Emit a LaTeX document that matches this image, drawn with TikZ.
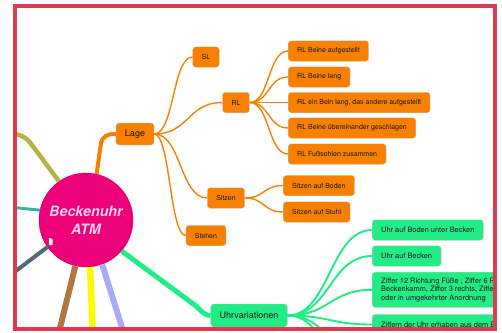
\documentclass[tikz,border=0pt]{standalone}
\usepackage{fontspec}
\setmainfont{TeX Gyre Heros}

\definecolor{mmframe}{RGB}{224,58,80}
\definecolor{mmorange}{RGB}{247,128,0}
\definecolor{mmgreen}{RGB}{34,236,134}
\definecolor{mmpink}{RGB}{236,0,122}
\definecolor{mmtext}{RGB}{250,205,228}
\definecolor{mmolive}{RGB}{181,178,74}
\definecolor{mmteal}{RGB}{58,175,170}
\definecolor{mmslate}{RGB}{80,106,115}
\definecolor{mmbrown}{RGB}{176,120,64}
\definecolor{mmyellow}{RGB}{255,250,0}
\definecolor{mmlav}{RGB}{170,170,250}

\tikzset{
	topic/.style={draw=black!20, fill=mmorange, rounded corners=3pt, inner xsep=9pt, inner ysep=0pt, minimum height=20.5pt, font=\fontsize{7}{8}\selectfont, text=black!90},
	gtopic/.style={topic, fill=mmgreen, font=\fontsize{7.4}{8.6}\selectfont},
	olink/.style={mmorange, line width=1.4pt},
	glink/.style={mmgreen, line width=1.9pt},
}

\begin{document}
\begin{tikzpicture}[x=1pt, y=-1pt]
		\useasboundingbox (0,0) rectangle (502,332);
		\begin{scope}
		\clip (15,6) rectangle (495,329);

		\node[circle, fill=mmpink, draw=mmpink!85!black, line width=0.4pt, minimum size=94pt, inner sep=0pt, align=center, text=mmtext, font=\fontsize{14.3}{18}\selectfont\bfseries\itshape] (atm) at (86,220) {Beckenuhr\\ATM};

		\coordinate (olv) at (5,133);
		\coordinate (tea) at (0,206);
		\coordinate (sla) at (0,283);
		\coordinate (bro) at (57,340);
		\coordinate (yel) at (93,340);
		\coordinate (lav) at (126,340);

		\draw[mmolive, line width=4.5pt] (atm.125) -- (32,145) .. controls (26,137) and (22,134) .. (olv);
		\draw[mmteal, line width=3pt] (atm.168) -- (tea);
		\draw[mmslate, line width=4pt] (atm.215) -- (sla);
		\draw[mmbrown, line width=6pt] (atm.257) -- (bro);
		\draw[mmyellow, line width=6.5pt] (atm.275) -- (yel);
		\draw[mmlav, line width=6pt] (atm.290) -- (lav);
		\draw[black!40, fill=white, line width=0.4pt] (49,238) -- (51,238) -- (52.5,239.5) -- (52.5,245) -- (49,245) -- cycle;

		% Lage
		\node[topic, minimum height=22pt, font=\fontsize{9}{10}\selectfont] (lage) at (135,134) {Lage};
		\node[topic] (sl) at (206,57) {SL};
		\node[topic] (rl) at (236,102.5) {RL};
		\node[topic] (sitzen) at (226,198) {Sitzen};
		\node[topic] (stehen) at (206,235.5) {Stehen};

		\node[topic, anchor=west] (rl1) at (288,51) {RL Beine aufgestellt};
		\node[topic, anchor=west] (rl2) at (288,77) {RL Beine lang};
		\node[topic, anchor=west] (rl3) at (288,102.5) {RL ein Bein lang, das andere aufgestellt};
		\node[topic, anchor=west] (rl4) at (288,128) {RL Beine übereinander geschlagen};
		\node[topic, anchor=west] (rl5) at (288,154) {RL Fußsohlen zusammen};
		\node[topic, anchor=west] (sb) at (283,185.5) {Sitzen auf Boden};
		\node[topic, anchor=west] (ss) at (283,212) {Sitzen auf Stuhl};

		\draw[mmorange, line width=4pt] (atm.77) -- (101,143) .. controls (103,136) and (107,134) .. (lage.west);
		\draw[olink] (lage.east) .. controls +(20,0) and +(-20,0) .. (sl.west);
		\draw[olink] (lage.east) .. controls +(35,0) and +(-35,0) .. (rl.west);
		\draw[olink] (lage.east) .. controls +(27,0) and +(-27,0) .. (sitzen.west);
		\draw[olink] (lage.east) .. controls +(16,0) and +(-16,0) .. (stehen.west);
		\foreach \n in {rl1,rl2,rl3,rl4,rl5}
			\draw[olink] (rl.east) .. controls +(20,0) and +(-20,0) .. (\n.west);
		\foreach \n in {sb,ss}
			\draw[olink] (sitzen.east) .. controls +(20,0) and +(-20,0) .. (\n.west);

		% Uhrvariationen
		\node[gtopic, minimum height=23pt, font=\fontsize{9}{10}\selectfont] (uv) at (249,315.5) {Uhrvariationen};
		\node[gtopic, anchor=west] (u1) at (372,230) {Uhr auf Boden unter Becken};
		\node[gtopic, anchor=west] (u2) at (372,256) {Uhr auf Becken};
		\node[gtopic, anchor=north west, align=left, inner ysep=5.5pt] (u3) at (372,272) {Ziffer 12 Richtung Füße , Ziffer 6 Ri\\Beckenkamm, Ziffer 3 rechts, Ziffer\\oder in umgekehrter Anordnung};
		\node[gtopic, anchor=west] (u4) at (372,324.5) {Ziffern der Uhr erhaben aus dem Bo};
		\coordinate (u5) at (372,360);
		\coordinate (u6) at (372,390);

		\draw[mmgreen, line width=5pt] (atm.319) -- (196,306) .. controls (203,313) and (206,315.5) .. (uv.west);
		\foreach \n in {u1,u2,u3,u4,u5,u6}
			\draw[glink] (uv.east) .. controls +(42,0) and +(-42,0) .. (\n.west);
		\end{scope}

		\draw[mmframe, line width=3.5pt] (15,6) rectangle (495,329);
	\end{tikzpicture}
\end{document}
